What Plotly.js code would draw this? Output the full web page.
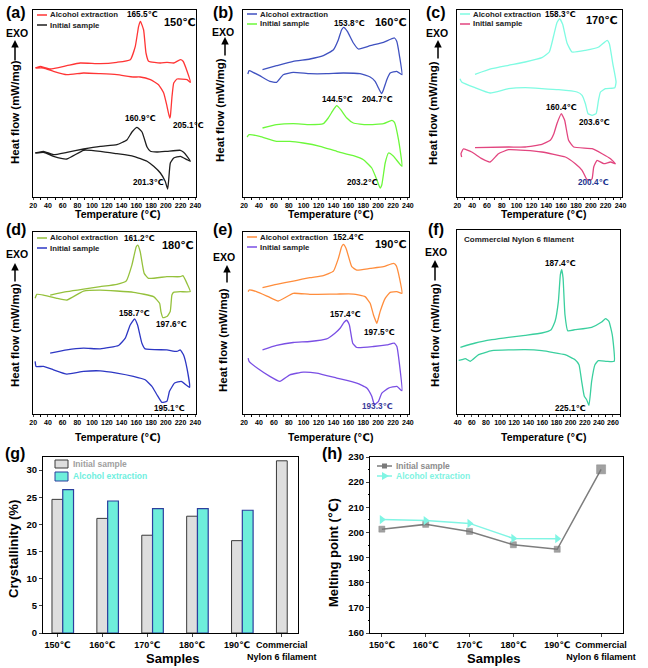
<!DOCTYPE html>
<html><head><meta charset="utf-8">
<script src="https://cdn.plot.ly/plotly-3.0.1.min.js"></script>
<style>html,body{margin:0;padding:0;background:#fff}#chart{width:648px;height:668px}</style>
</head><body><div id="chart"></div>
<script>
// ================= DATA =================
// (a) 150℃
const a_alc_T = [22.7,29.5,43,65.7,83.8,111,133.6,151.7,158.5,163,165.5,169.8,173,176.6,192.5,201.5,210.6,219.6,223.3,228.7,233.2,228.7,215,210.6,208.3,206,205.1,201.5,197,190,179,165,156,133.6,111,88.4,65.7,47.6,34,24];
const a_alc_H = [129,130.7,128,131.3,134,133.3,134.7,137.3,150.7,170.7,175.7,167,144,135.7,134,134.7,134,137.3,135.7,125.7,114.7,117.3,118,114,100.7,80.7,79,90.7,104,112.3,117.3,120,120,122.3,123.3,124,122.3,125.7,129,129];
const a_ini_T = [22.7,34,47.6,65.7,88.4,111,133.6,147,154,160.8,167.6,174.4,179,188,201.5,219.6,224,228.7,233.2,228.7,219.6,210.6,206,203.8,202.4,199,192.5,183.4,174.4,156,133.6,111,88.4,65.7,47.6,34,24];
const a_ini_H = [44,45.7,42.3,44.7,48,50.7,52.3,57,65,69.7,65,50,45.7,45,45.7,46.7,44.7,40.7,35.7,37.3,40.7,39,34,17.3,8,15.7,24,30.7,35.7,40.7,43.3,45.7,46.7,38,40.7,44.7,44];
// (b) 160℃
const b_alc_T = [44.7,63.6,86,108.4,126.4,140,146.6,151,153.8,158.7,166.8,173.6,189.3,207.2,222,225,228.8,232,225,216.2,211.7,207.2,204.7,200.5,196,189.3,175.8,153.4,130.9,108.4,86,72.5,63.6,54.6,41,32,26.7,25];
const b_alc_H = [127.3,131.3,135.7,138,141.3,147.3,157.3,167.3,169.7,165.7,154,148,151.3,154.7,159,155.7,140.7,122.3,125.7,124,117.3,107.3,103.3,109,115.7,120,123.3,124,123.3,123.3,124.7,122.3,114.7,115.7,121.3,124.7,126.3,123];
const b_ini_T = [44.7,63.6,86,108.4,126.4,133,140,144.4,149.8,158,166.8,184.8,207.2,218.5,222,227.4,232,220.7,214,209.5,205,202.7,198.3,191.5,180.3,166.8,144.4,122,99.5,81.5,63.6,41,26.7,24];
const b_ini_H = [69,72.3,73.3,72.3,73.3,79,87.3,91.3,87.3,79,74,72.3,73.3,76.7,74.7,57.3,30.7,40.7,44,34,12.3,9,17.3,29,37.3,41.3,45.7,50.7,54,55.7,55.7,60.7,62.3,60];
// (c) 170℃
const c_alc_T = [43.9,66.4,89,111.5,134,144,149.8,154.3,158,162,167.9,174.6,192.7,210.7,222,225,229.6,234,232.3,219.7,213,210.3,207.1,201.7,196.3,192.7,188.2,181.4,156.6,111.5,89,64.2,43.9,25.9,23.6];
const c_alc_H = [122.7,128.3,131.7,135,139.3,145,161,174.3,178.3,172.7,154,145,146.7,150,156.7,153.3,133.3,115,109.3,108.3,105,96.7,83.3,81.7,83.3,93.3,101.7,105,107.3,109.3,108.3,104,109.3,115,118.3];
const c_ini_T = [43.9,89,111.5,134,145.3,150,154.3,160.2,164.7,170,176.9,201.7,215.2,226.5,233.2,226.5,217.5,208.4,203.9,201.7,199,194.5,188.2,179.1,165.6,134,111.5,89,75.5,64.2,53,39.4,28.1,25,25.9];
const c_ini_H = [49.3,50,50,52.7,56.7,63,73.3,83.3,76.7,56.7,50,48.3,43.3,38.3,33.3,35,33.3,36.7,30,18.3,16.7,17.7,26.7,33.3,40,45,46.7,47.3,43.3,35,38.3,45,48,43.3,40];
// (d) 180℃
const d_alc_T = [43.1,65.7,88.4,111,133.6,146.3,154,159.9,162,165.3,170.7,176.6,201.5,219.6,223.3,228.7,233.2,219.6,210.6,208.3,206,201.5,196,193.4,191.6,183.4,156.3,111,88.4,65.7,52,34,25,22.7];
const d_alc_H = [119.3,122.7,125.3,127.7,130,133.3,149.3,167.7,169.3,162.7,141,136,137.7,137.7,138.7,131,122.7,122.7,122,119.3,102.7,97.7,96.7,102.7,111,117.7,122,124.3,123.3,114.3,116,119.3,120,116];
const d_ini_T = [43.1,65.7,88.4,111,135.9,145,151.7,157.6,161.7,167.6,172,201.5,215,219.6,224,228.7,232.3,221,212,205,201.5,194.7,188,181.2,172,156,133.6,111,88.4,65.7,47.6,34,24,22.7];
const d_ini_H = [61,64.3,66,65.3,68.7,76,89.3,95.3,89.3,71,65.3,64.3,62.7,64.3,59.3,46,26.7,32.7,31,22.7,12.7,11.7,19.3,27.7,34.3,37.7,41,43.3,42.7,40,44.3,47.7,47.7,52.7];
// (e) 190℃
const e_alc_T = [44.7,63.6,86,108.4,126.4,140,146.6,151,153.3,157,164.6,171.3,189.3,207.2,220.7,224.3,228.8,232,225.2,216.2,209.5,202.7,198.3,193.8,189.3,182.5,166.8,144.4,108.4,86,65.8,52.3,36.6,26.7,25.4];
const e_alc_H = [126.7,130,133.3,136.7,138.7,143.3,156,167.7,170,166,147.7,144.3,146,147.7,151,148.7,136,121,122.7,122,116,102.7,91,99.3,111,117.7,120.3,120.3,120,121,113.3,117.7,122.7,124.3,122.7];
const e_ini_T = [44.7,63.6,86,108.4,130.9,142,148.9,154.3,157.8,161.4,165.9,171.3,193.8,211.7,221.6,225.2,228.8,232,225.2,214,205,200.5,195.1,191.5,184.8,171.3,144.4,117.4,99.5,81.5,68,54.6,38.9,26.7,25.4];
const e_ini_H = [64.3,68.7,71.7,72.7,75.3,81,86,92,94,89.3,71,66.7,67.7,69.3,71,67.7,49.3,23.3,27.7,26,21,12.7,9.3,17.7,26,31,36,41,42,39.3,32.7,37.7,45.3,52.7,56];
// (f) Commercial Nylon 6 filament
const f_T = [43.8,65,88.5,112,135.6,159.2,172.4,178,182.7,185.5,187.4,189.3,192,195.9,206.3,229.8,244,249.6,254.3,259,261.8,251,239.2,234.5,229.8,226,222.7,219.4,215.7,211.9,206.3,192,159.2,135.6,88.5,69.7,57.9,50.8,46.1,41.4];
const f_H = [66.7,71,74.3,76.7,78.7,81,84.3,92.7,112.7,139.3,144.3,136,99.3,83.3,84.3,86.7,92,95.3,92.7,79.3,52.7,52.7,53.3,49.3,32.7,8.7,14.3,17.7,32.7,49.3,54.3,59.3,63.3,64.3,63.3,59.3,52.7,55.3,54.3,53.7];

// (g), (h)
const sampleLabels = ['150℃','160℃','170℃','180℃','190℃','Commercial<br>Nylon 6 filament'];
const crystInitial = [24.6,21.1,18.0,21.5,17.0,31.7];
const crystAlcohol = [26.4,24.3,22.9,22.9,22.6];
const meltInitial = [201.3,203.2,200.4,195.1,193.3,225.1];
const meltAlcohol = [205.1,204.7,203.6,197.6,197.5];

const seriesNames = ['Alcohol extraction','Initial sample'];
const panelTemps = ['150℃','160℃','170℃','180℃','190℃'];
const peakA = ['165.5℃','205.1℃','160.9℃','201.3℃'];
const peakB = ['153.8℃','204.7℃','144.5℃','203.2℃'];
const peakC = ['158.3℃','203.6℃','160.4℃','200.4℃'];
const peakD = ['161.2℃','197.6℃','158.7℃','195.1℃'];
const peakE = ['152.4℃','197.5℃','157.4℃','193.3℃'];
const peakF = ['187.4℃','225.1℃'];

// ================= LAYOUT HELPERS =================
const W = 648, H = 668;
const FONT = 'Arial, "Liberation Sans", "DejaVu Sans", sans-serif';
const px = x => x / W;
const py = y => 1 - y / H;
const dx = (l, r) => [px(l), px(r)];
const dy = (t, b) => [py(b), py(t)];

const traces = [];
const annotations = [];
const shapes = [];
const layout = {
  width: W, height: H, margin: {l:0, r:0, t:0, b:0},
  paper_bgcolor: '#fff', plot_bgcolor: '#fff',
  font: {family: FONT, color: '#000'},
  showlegend: false, barmode: 'overlay'
};

function txt(x, y, text, size, opts) {
  annotations.push(Object.assign({
    xref: 'paper', yref: 'paper', x: px(x), y: py(y), text: text,
    showarrow: false, xanchor: 'center', yanchor: 'middle',
    font: {family: FONT, size: size, color: '#000', weight: 'bold'}
  }, opts || {}));
}

const dsc = [
  {n:'', box:[33,196,10,197], xr:[19.8,240.8], yr:[0,187], dt:20,
   curves:[[a_alc_T,a_alc_H,'#ff3535'],[a_ini_T,a_ini_H,'#1e1e1e']], letter:'(a)', letterPos:[16,12],
   exo:[17,33], arrow:[15,40,62], ytl:[15,112], xtl:[117,214], leg:[37,15], temp:[panelTemps[0],180,22],
   peaks:[[peakA[0],142,15],[peakA[1],188,125],[peakA[2],140,119],[peakA[3],148,182]], pcol:['#000','#000','#000','#000']},
  {n:'2', box:[243,409,10,197], xr:[18.5,241.5], yr:[0,187], dt:20,
   curves:[[b_alc_T,b_alc_H,'#3f51c0'],[b_ini_T,b_ini_H,'#6cf83a']], letter:'(b)', letterPos:[223,12],
   exo:[223,32], arrow:[225,37,57], ytl:[220,110], xtl:[330,214], leg:[247,14], temp:[panelTemps[1],391,22],
   peaks:[[peakB[0],349,24],[peakB[1],377,100],[peakB[2],337,100],[peakB[3],362,182]], pcol:['#000','#000','#000','#000']},
  {n:'3', box:[457,622,10,197], xr:[19.6,242], yr:[0,187], dt:20,
   curves:[[c_alc_T,c_alc_H,'#7ffbe2'],[c_ini_T,c_ini_H,'#e2457f']], letter:'(c)', letterPos:[436,12],
   exo:[437,33], arrow:[438,40,60], ytl:[433,113], xtl:[543,214], leg:[460,14], temp:[panelTemps[2],602,20],
   peaks:[[peakC[0],560,15],[peakC[1],594,122],[peakC[2],561,107],[peakC[3],593,183]], pcol:['#000','#000','#000','#1d3590']},
  {n:'4', box:[33,196,232,414], xr:[19.8,241], yr:[0,182.5], dt:20,
   curves:[[d_alc_T,d_alc_H,'#95c13c'],[d_ini_T,d_ini_H,'#2d37c4']], letter:'(d)', letterPos:[16,229],
   exo:[17,254], arrow:[15,263,283], ytl:[15,335], xtl:[117,437], leg:[37,238], temp:[panelTemps[3],178,245],
   peaks:[[peakD[0],139,239],[peakD[1],171,325],[peakD[2],134,313],[peakD[3],169,408]], pcol:['#000','#000','#000','#000']},
  {n:'5', box:[243,409,232,414], xr:[18.5,241.5], yr:[0,182.5], dt:20,
   curves:[[e_alc_T,e_alc_H,'#ff8d3c'],[e_ini_T,e_ini_H,'#7a4fe4']], letter:'(e)', letterPos:[223,229],
   exo:[224,257], arrow:[227,265,284], ytl:[223,340], xtl:[330,437], leg:[247,237], temp:[panelTemps[4],391,244],
   peaks:[[peakE[0],348,238],[peakE[1],379,332],[peakE[2],345,314],[peakE[3],377,407]], pcol:['#000','#000','#000','#3a3a9a']},
  {n:'6', box:[457,620,230,414], xr:[39,270], yr:[0,184], dt:20,
   curves:[[f_T,f_H,'#3acf9e']], letter:'(f)', letterPos:[436,229],
   exo:[436,252], arrow:[435,260,282], ytl:[435,335], xtl:[543,437], leg:null, temp:null,
   peaks:[[peakF[0],560,263],[peakF[1],570,408]], pcol:['#000','#000']}
];

dsc.forEach(p => {
  const xa = 'xaxis' + p.n, ya = 'yaxis' + p.n;
  const xr = 'x' + p.n, yr = 'y' + p.n;
  layout[xa] = {domain: dx(p.box[0], p.box[1]), anchor: yr, range: p.xr,
    tickmode: 'linear', tick0: 0, dtick: p.dt, ticks: 'outside', ticklen: 2, tickwidth: 1,
    minor: {ticks: 'outside', ticklen: 1.5, dtick: 10, tickcolor: '#000'},
    tickangle: 0, showline: true, mirror: true, linecolor: '#000', linewidth: 1,
    showgrid: false, zeroline: false,
    tickfont: {family: FONT, size: 7, weight: 'bold', color: '#000'}};
  layout[ya] = {domain: dy(p.box[2], p.box[3]), anchor: xr, range: p.yr,
    showticklabels: false, ticks: '', showline: true, mirror: true, linecolor: '#000', linewidth: 1,
    showgrid: false, zeroline: false};
  p.curves.forEach(c => {
    traces.push({x: c[0], y: c[1], xaxis: xr, yaxis: yr, type: 'scatter', mode: 'lines',
      line: {color: c[2], width: 1.3, shape: 'spline', smoothing: 0.4}, hoverinfo: 'skip'});
  });
  txt(p.letterPos[0], p.letterPos[1], p.letter, 16);
  txt(p.exo[0], p.exo[1], 'EXO', 10.5);
  annotations.push({xref:'paper', yref:'paper', x: px(p.arrow[0]), y: py(p.arrow[1]),
    ax: 0, ay: p.arrow[2] - p.arrow[1], text: '', showarrow: true,
    arrowhead: 2, arrowsize: 1, arrowwidth: 1.5, arrowcolor: '#000'});
  txt(p.ytl[0], p.ytl[1], 'Heat flow (mW/mg)', 11.5, {textangle: -90});
  txt(p.xtl[0], p.xtl[1], 'Temperature (℃)', 10.5);
  if (p.leg) {
    p.curves.forEach((c, i) => {
      const yy = p.leg[1] + i * 10;
      shapes.push({type: 'line', xref: 'paper', yref: 'paper', x0: px(p.leg[0]), x1: px(p.leg[0] + 10),
        y0: py(yy), y1: py(yy), line: {color: c[2], width: 1.5}});
      txt(p.leg[0] + 11, yy, seriesNames[i], 7.8, {xanchor: 'left', font: {family: FONT, size: 7.8, color: '#222', weight: 'bold'}});
    });
  } else {
    txt(462, 240, 'Commercial Nylon 6 filament', 8, {xanchor: 'left', font: {family: FONT, size: 8, color: '#222', weight: 'bold'}});
  }
  if (p.temp) txt(p.temp[1], p.temp[2], p.temp[0], 11);
  p.peaks.forEach((pk, i) => txt(pk[1], pk[2], pk[0], 8.2, {font: {family: FONT, size: 8.2, color: p.pcol[i], weight: 'bold'}}));
});

// ---------- (g) crystallinity bars ----------
layout.xaxis7 = {domain: dx(43, 298), anchor: 'y7', type: 'category', range: [-0.32, 5.36],
  ticks: 'outside', ticklen: 3, showline: true, mirror: true, linecolor: '#000', linewidth: 1,
  showgrid: false, zeroline: false, tickangle: 0,
  tickfont: {family: FONT, size: 9, weight: 'bold', color: '#000'}};
layout.yaxis7 = {domain: dy(457, 633), anchor: 'x7', range: [0, 32.4], dtick: 5,
  ticks: 'outside', ticklen: 3, showline: true, mirror: true, linecolor: '#000', linewidth: 1,
  showgrid: false, zeroline: false,
  tickfont: {family: FONT, size: 9.5, weight: 'bold', color: '#000'}};
traces.push({type: 'bar', x: sampleLabels, y: crystInitial, xaxis: 'x7', yaxis: 'y7',
  offset: -0.12, width: 0.24, marker: {color: '#dedede', line: {color: '#3a3a3a', width: 1}}, hoverinfo: 'skip'});
traces.push({type: 'bar', x: sampleLabels.slice(0, crystAlcohol.length), y: crystAlcohol, xaxis: 'x7', yaxis: 'y7',
  offset: 0.12, width: 0.24, marker: {color: '#6eeedb', line: {color: '#2c3f9e', width: 1.2}}, hoverinfo: 'skip'});
txt(15, 453, '(g)', 16);
txt(13, 549, 'Crystallinity (%)', 13, {textangle: -90});
txt(172, 658, 'Samples', 13);
shapes.push({type: 'rect', xref: 'paper', yref: 'paper', x0: px(55), x1: px(68), y0: py(468), y1: py(460),
  fillcolor: '#dedede', line: {color: '#3a3a3a', width: 1}});
shapes.push({type: 'rect', xref: 'paper', yref: 'paper', x0: px(55), x1: px(68), y0: py(481), y1: py(472),
  fillcolor: '#6eeedb', line: {color: '#2c3f9e', width: 1}});
txt(71, 464, seriesNames[1], 8.5, {xanchor: 'left', font: {family: FONT, size: 8.5, color: '#a0a0a0', weight: 'bold'}});
txt(71, 476, seriesNames[0], 8.5, {xanchor: 'left', font: {family: FONT, size: 8.5, color: '#6fefe0', weight: 'bold'}});

// ---------- (h) melting point ----------
layout.xaxis8 = {domain: dx(370, 623), anchor: 'y8', type: 'category', range: [-0.27, 5.5],
  ticks: 'outside', ticklen: 3, showline: true, mirror: true, linecolor: '#000', linewidth: 1,
  showgrid: false, zeroline: false, tickangle: 0,
  tickfont: {family: FONT, size: 9, weight: 'bold', color: '#000'}};
layout.yaxis8 = {domain: dy(457, 633), anchor: 'x8', range: [160, 230], dtick: 10,
  ticks: 'outside', ticklen: 3, showline: true, mirror: true, linecolor: '#000', linewidth: 1,
  minor: {ticks: 'outside', ticklen: 1.5, dtick: 5, tickcolor: '#000'},
  showgrid: false, zeroline: false,
  tickfont: {family: FONT, size: 9.5, weight: 'bold', color: '#000'}};
traces.push({type: 'scatter', mode: 'lines+markers', x: sampleLabels, y: meltInitial, xaxis: 'x8', yaxis: 'y8',
  line: {color: '#7d7d7d', width: 1.5},
  marker: {symbol: 'square', size: [6,6,6,6,6,9], color: '#7a7a7a', line: {color: '#5a5a5a', width: 0.5}}, hoverinfo: 'skip'});
traces.push({type: 'scatter', mode: 'lines+markers', x: sampleLabels.slice(0, meltAlcohol.length), y: meltAlcohol, xaxis: 'x8', yaxis: 'y8',
  line: {color: '#80f5e4', width: 1.5},
  marker: {symbol: 'triangle-right', size: 8, color: '#80f5e4'}, hoverinfo: 'skip'});
txt(332, 453, '(h)', 16);
txt(333, 552, 'Melting point (℃)', 13, {textangle: -90});
txt(493, 658, 'Samples', 13);
// legend (h)
shapes.push({type: 'line', xref: 'paper', yref: 'paper', x0: px(377), x1: px(392), y0: py(466), y1: py(466),
  line: {color: '#7d7d7d', width: 1.5}});
shapes.push({type: 'rect', xref: 'paper', yref: 'paper', x0: px(382), x1: px(387), y0: py(468.5), y1: py(463.5),
  fillcolor: '#7a7a7a', line: {width: 0}});
shapes.push({type: 'line', xref: 'paper', yref: 'paper', x0: px(377), x1: px(392), y0: py(476), y1: py(476),
  line: {color: '#80f5e4', width: 1.5}});
shapes.push({type: 'path', xref: 'paper', yref: 'paper',
  path: 'M' + px(382) + ',' + py(472) + ' L' + px(389) + ',' + py(476) + ' L' + px(382) + ',' + py(480) + ' Z',
  fillcolor: '#80f5e4', line: {width: 0}});
txt(394, 466, seriesNames[1], 8.5, {xanchor: 'left', font: {family: FONT, size: 8.5, color: '#8c8c8c', weight: 'bold'}});
txt(394, 476, seriesNames[0], 8.5, {xanchor: 'left', font: {family: FONT, size: 8.5, color: '#7ff3e2', weight: 'bold'}});

layout.annotations = annotations;
layout.shapes = shapes;
Plotly.newPlot('chart', traces, layout, {displayModeBar: false, staticPlot: true});
</script></body></html>
